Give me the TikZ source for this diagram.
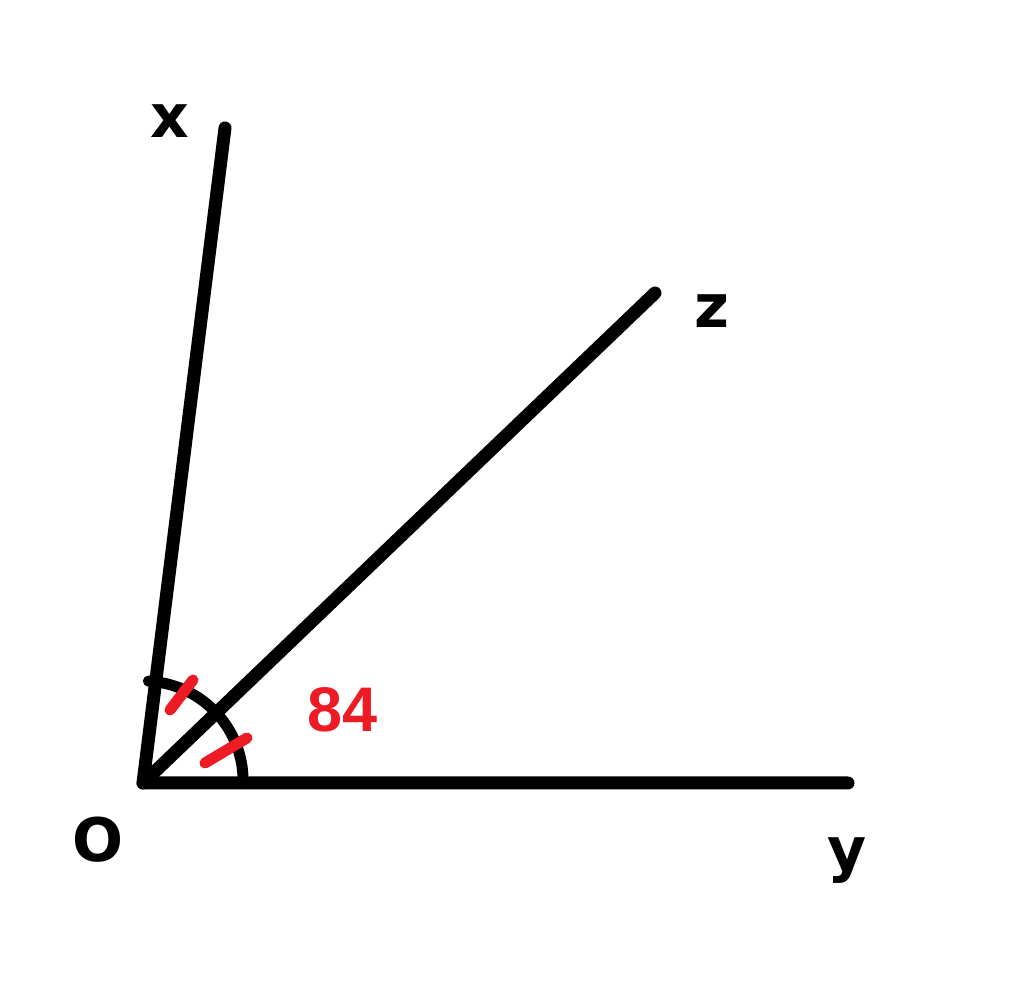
\documentclass[tikz,border=0pt]{standalone}
\usepackage{fontspec}
\setmainfont{DejaVu Sans}
\newfontfamily\numfont{Liberation Sans}
\usetikzlibrary{arrows}
\definecolor{angmark}{RGB}{237,28,36}
\tikzstyle{ray}=[line width=6.5pt, line cap=round, line join=round]
\tikzstyle{bisarc}=[line width=5.5pt, line cap=round]
\tikzstyle{tickmark}=[draw=angmark, line width=5.5pt, line cap=round]
\tikzstyle{raylabel}=[inner sep=0pt, font=\bfseries\fontsize{30}{30}\selectfont]
\tikzstyle{anglabel}=[inner sep=0pt, text=angmark, font=\numfont\bfseries\fontsize{31.5}{31.5}\selectfont]
\newcommand{\raylabel}[3]{
	\node[raylabel] (#1) at (#2) {#3};}
\newcommand{\tickmark}[3]{
	\coordinate (#1a) at (#2);
	\coordinate (#1b) at (#3);
	\draw[tickmark] (#1a) -- (#1b);}

\begin{document}
\begin{tikzpicture}[x=0.5pt, y=0.5pt]
	\useasboundingbox (0,0) rectangle (1024,999);
	\coordinate (O) at (143,216);
	\coordinate (X) at (225,871);
	\coordinate (Z) at (655,706);
	\coordinate (Y) at (848,216);
	
	\raylabel{xlabel}{170,878}{x}
	\raylabel{zlabel}{712,688}{z}
	\raylabel{ylabel}{847,138}{y}
	\raylabel{olabel}{98,159}{O}
	\node[anglabel] (angle) at (343,289) {84};
	
	\draw[ray] (X) -- (O) -- (Y);
	\draw[ray] (O) -- (Z);
	\coordinate (arcstart) at ([shift={(87:102)}]O);
	\draw[bisarc] (arcstart) arc[start angle=87, end angle=3, radius=100];
	
	\tickmark{ta}{170,289}{193,319}
	\tickmark{tb}{205,236}{247,261}
\end{tikzpicture}
\end{document}
